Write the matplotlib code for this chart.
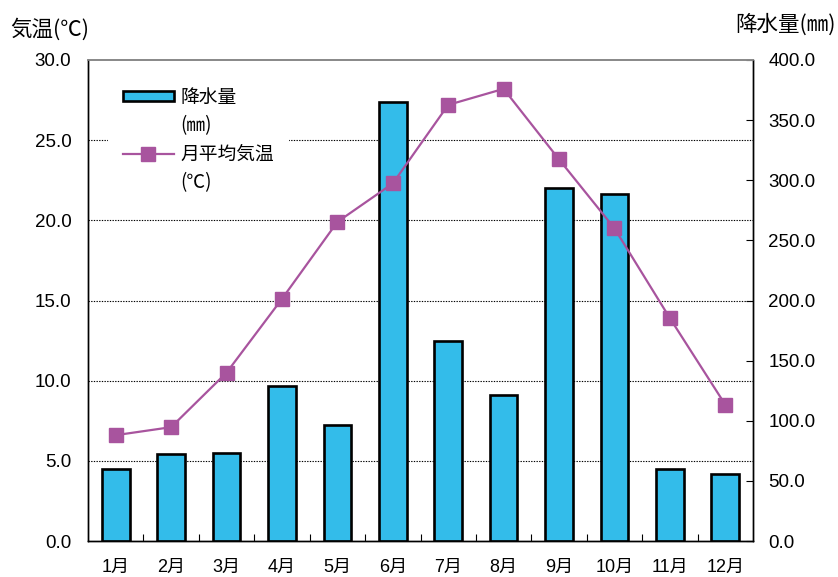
import matplotlib
matplotlib.use("Agg")
import matplotlib.pyplot as plt
from matplotlib.lines import Line2D
from matplotlib.patches import Patch
import numpy as np

plt.rcParams['font.family'] = ['Liberation Sans', 'Noto Sans CJK JP', 'DejaVu Sans']

months = ['1月', '2月', '3月', '4月', '5月', '6月',
          '7月', '8月', '9月', '10月', '11月', '12月']
precip_mm = [59.6, 72.3, 73.2, 128.6, 96.5, 364.8,
             166.1, 121.7, 293.3, 288.3, 59.6, 55.7]
temp_c = [6.6, 7.1, 10.5, 15.1, 19.9, 22.3,
          27.2, 28.2, 23.8, 19.5, 13.9, 8.5]
temp_ticks = [0, 5, 10, 15, 20, 25, 30]
precip_ticks = [0, 50, 100, 150, 200, 250, 300, 350, 400]

bar_color = '#33BCEA'
line_color = '#A8549E'
cjk = ['Noto Sans CJK JP', 'DejaVu Sans']

fig = plt.figure(figsize=(8.38, 5.77), dpi=100)
ax_p = fig.add_axes([88 / 838, 36 / 577, 665 / 838, 481 / 577])
ax_t = ax_p.twinx()

x = np.arange(len(months))

# precipitation bars (right axis)
ax_p.bar(x, precip_mm, width=0.5, color=bar_color, edgecolor='black',
         linewidth=1.9, zorder=3)
ax_p.set_ylim(precip_ticks[0], precip_ticks[-1])
ax_p.set_xlim(-0.5, len(months) - 0.5)
ax_p.yaxis.tick_right()
ax_p.set_yticks(precip_ticks)
ax_p.set_yticklabels([f'{v:.1f}' for v in precip_ticks], fontsize=13.5)
ax_p.tick_params(axis='y', direction='in', length=5, pad=11, width=0.8)

# horizontal guides at the temperature ticks
for t in temp_ticks[1:-1]:
    ax_p.axhline(t * precip_ticks[-1] / temp_ticks[-1], color='black',
                 linestyle=(0, (1.2, 1.2)), linewidth=0.8, zorder=1)

ax_p.set_xticks(x)
ax_p.set_xticklabels(months, fontsize=13)
ax_p.set_xticks(x[:-1] + 0.5, minor=True)
ax_p.tick_params(axis='x', which='major', length=0, pad=13)
ax_p.tick_params(axis='x', which='minor', direction='in', length=5, width=0.8)

# monthly mean temperature (left axis)
ax_t.plot(x, temp_c, color=line_color, linewidth=1.6, marker='s',
          markersize=9.5, markerfacecolor=line_color,
          markeredgecolor=line_color, zorder=5)
ax_t.set_ylim(temp_ticks[0], temp_ticks[-1])
ax_t.yaxis.tick_left()
ax_t.set_yticks(temp_ticks)
ax_t.set_yticklabels([f'{v:.1f}' for v in temp_ticks], fontsize=13.5)
ax_t.tick_params(axis='y', direction='in', length=0, pad=12)

for a in (ax_p, ax_t):
    a.spines['top'].set_color('#888888')
    a.spines['top'].set_linewidth(1.2)
    for s in ('left', 'right', 'bottom'):
        a.spines[s].set_color('black')
        a.spines[s].set_linewidth(1.0)

fig.text(10 / 838, 1 - 30 / 577, '気温(℃)', fontsize=15.5,
         ha='left', va='center', family=cjk)
fig.text(836 / 838, 1 - 25 / 577, '降水量(㎜)', fontsize=15.5,
         ha='right', va='center', family=cjk)

# legend: series name on the first row, unit on the row below
blank = Line2D([], [], linestyle='none')
handles = [
    Patch(facecolor=bar_color, edgecolor='black', linewidth=1.9),
    blank,
    Line2D([0], [0], color=line_color, linewidth=1.6, marker='s',
           markersize=9.5, markerfacecolor=line_color,
           markeredgecolor=line_color),
    blank,
]
labels = ['降水量', '(㎜)', '月平均気温', '(℃)']
leg = ax_t.legend(handles, labels, loc='upper left',
                  bbox_to_anchor=(0.030, 0.975), borderaxespad=0,
                  frameon=True, fancybox=False, edgecolor='none',
                  framealpha=1.0, borderpad=0.8,
                  handlelength=2.7, handleheight=0.45, handletextpad=0.35,
                  labelspacing=0.4,
                  prop={'family': cjk, 'size': 13.5})
leg.set_zorder(10)

fig.savefig('out.png', dpi=100)
